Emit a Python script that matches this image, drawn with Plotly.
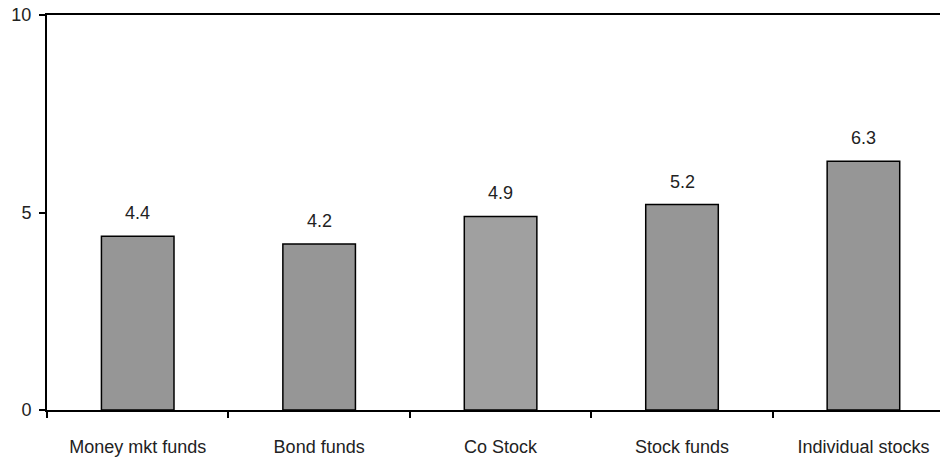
import plotly.graph_objects as go

categories = ["Money mkt funds", "Bond funds", "Co Stock", "Stock funds", "Individual stocks"]
values = [4.4, 4.2, 4.9, 5.2, 6.3]
bar_colors = ["#969696", "#969696", "#a0a0a0", "#969696", "#969696"]
y_ticks = [0, 5, 10]

FONT = "Liberation Sans Narrow, Arial Narrow, Liberation Sans, Arial, sans-serif"
FS = 18

fig = go.Figure()
fig.add_trace(go.Bar(
    x=categories, y=values, width=0.4,
    marker=dict(color=bar_colors, line=dict(color="black", width=1.5)),
    hoverinfo="skip",
))

for c, v in zip(categories, values):
    fig.add_annotation(x=c, y=v, text=f"{v:.1f}", showarrow=False,
                       yanchor="bottom", yshift=11,
                       font=dict(family=FONT, size=FS, color="#222"))

fig.update_layout(
    width=940, height=462,
    margin=dict(l=47, r=0, t=15, b=52),
    paper_bgcolor="white", plot_bgcolor="white",
    showlegend=False,
    font=dict(family=FONT, size=FS, color="#222"),
)
fig.update_xaxes(
    type="category", range=[-0.5, 4.422],
    showline=True, linecolor="black", linewidth=2, mirror=True,
    ticks="outside", tickson="boundaries", ticklen=6, tickwidth=2, tickcolor="black",
    showgrid=False, tickfont=dict(family=FONT, size=FS, color="#222"),
    ticklabelstandoff=19,
)
fig.update_yaxes(
    range=[0, 10], tickvals=y_ticks,
    showline=True, linecolor="black", linewidth=2,
    ticks="outside", ticklen=6, tickwidth=2, tickcolor="black",
    showgrid=False, zeroline=False,
    tickfont=dict(family=FONT, size=FS, color="#222"),
    ticklabelstandoff=4,
)

fig.write_html("out.html", config={"displayModeBar": False},
               post_script="document.body.style.margin='0px';")
